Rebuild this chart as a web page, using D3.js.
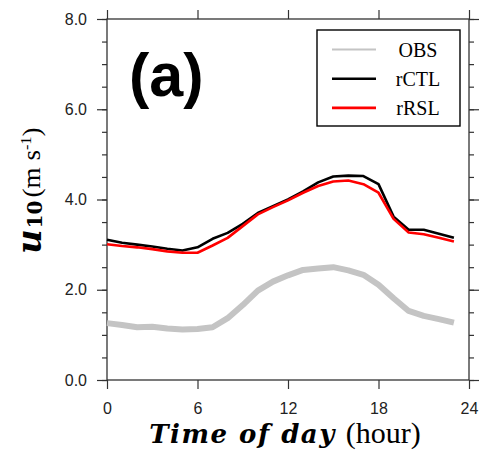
<!DOCTYPE html>
<html>
<head>
<meta charset="utf-8">
<script src="https://cdn.jsdelivr.net/npm/d3@7"></script>
<style>
  body { margin: 0; background: #fff; }
  svg { display: block; }
</style>
</head>
<body>
<svg id="chart" width="480" height="454"></svg>
<script>
// hourly values
const hours = d3.range(0, 24);
const obs = [1.26, 1.22, 1.17, 1.18, 1.14, 1.12, 1.13, 1.17, 1.37, 1.66, 1.98, 2.18,
  2.32, 2.44, 2.47, 2.50, 2.43, 2.33, 2.11, 1.81, 1.53, 1.42, 1.35, 1.27];
const rCTL = [3.11, 3.04, 3.00, 2.96, 2.91, 2.87, 2.94, 3.13, 3.26, 3.46, 3.70, 3.85,
  4.00, 4.18, 4.38, 4.51, 4.53, 4.52, 4.34, 3.62, 3.33, 3.33, 3.24, 3.15];
const rRSL = [3.01, 2.97, 2.94, 2.90, 2.85, 2.82, 2.82, 2.98, 3.15, 3.41, 3.67, 3.83,
  3.98, 4.15, 4.30, 4.40, 4.42, 4.34, 4.15, 3.57, 3.27, 3.23, 3.15, 3.07];

const seriesNames = ["OBS", "rCTL", "rRSL"];
const xTicks = [0, 6, 12, 18, 24];
const yTicks = [0, 2, 4, 6, 8];
const yMinorTicks = d3.range(0, 8.01, 0.5);

const series = [
  {name: seriesNames[0], values: obs, color: "#c4c4c4", width: 6, legendWidth: 2},
  {name: seriesNames[1], values: rCTL, color: "#000000", width: 2.6, legendWidth: 2.6},
  {name: seriesNames[2], values: rRSL, color: "#ff0000", width: 2.6, legendWidth: 2.6}
];

const svg = d3.select("#chart");
const plotLeft = 107, plotRight = 469, plotTop = 19, plotBottom = 380;

const x = d3.scaleLinear().domain([0, 24]).range([plotLeft, plotRight]);
const y = d3.scaleLinear().domain([0, 8]).range([plotBottom, plotTop]);

const axisColor = "#333";

// minor ticks first, then major ticks on each side
function styleAxis(g) {
  g.select(".domain").remove();
  g.selectAll(".tick line").attr("stroke", axisColor).attr("stroke-width", 1.2);
  g.selectAll(".tick text")
    .attr("fill", "#222")
    .style("font-family", "Liberation Sans, Arial, sans-serif")
    .style("font-size", "16px");
}

svg.append("g").attr("transform", `translate(${plotLeft},0)`)
  .call(d3.axisLeft(y).tickValues(yMinorTicks).tickSize(5).tickFormat(""))
  .call(styleAxis);
svg.append("g").attr("transform", `translate(${plotRight},0)`)
  .call(d3.axisRight(y).tickValues(yMinorTicks).tickSize(5).tickFormat(""))
  .call(styleAxis);

svg.append("g").attr("transform", `translate(${plotLeft},0)`)
  .call(d3.axisLeft(y).tickValues(yTicks).tickSize(10).tickPadding(10).tickFormat(d3.format(".1f")))
  .call(styleAxis);
svg.append("g").attr("transform", `translate(${plotRight},0)`)
  .call(d3.axisRight(y).tickValues(yTicks).tickSize(10).tickFormat(""))
  .call(styleAxis);

svg.append("g").attr("transform", `translate(0,${plotBottom})`)
  .call(d3.axisBottom(x).tickValues(xTicks).tickSize(9).tickPadding(14).tickFormat(d3.format("d")))
  .call(styleAxis);
svg.append("g").attr("transform", `translate(0,${plotTop})`)
  .call(d3.axisTop(x).tickValues(xTicks).tickSize(9).tickFormat(""))
  .call(styleAxis);

// frame
svg.append("rect")
  .attr("x", plotLeft).attr("y", plotTop)
  .attr("width", plotRight - plotLeft).attr("height", plotBottom - plotTop)
  .attr("fill", "none").attr("stroke", axisColor).attr("stroke-width", 1.3);

// lines
const line = d3.line()
  .x((d, i) => x(hours[i]))
  .y(d => y(d));

svg.append("g").selectAll("path")
  .data(series)
  .join("path")
  .attr("d", d => line(d.values))
  .attr("fill", "none")
  .attr("stroke", d => d.color)
  .attr("stroke-width", d => d.width)
  .attr("stroke-linejoin", "round");

// panel label
svg.append("text")
  .attr("x", 129).attr("y", 96)
  .style("font-family", "Liberation Sans, Arial, sans-serif")
  .style("font-weight", "bold")
  .style("font-size", "61px")
  .text("(a)");

// legend
const legend = svg.append("g");
legend.append("rect")
  .attr("x", 317).attr("y", 30)
  .attr("width", 143).attr("height", 96)
  .attr("fill", "#fff").attr("stroke", "#000").attr("stroke-width", 1.4);

const row = legend.selectAll("g.row")
  .data(series)
  .join("g")
  .attr("class", "row")
  .attr("transform", (d, i) => `translate(0,${49.5 + i * 29.2})`);

row.append("line")
  .attr("x1", 332).attr("x2", 376)
  .attr("stroke", d => d.color)
  .attr("stroke-width", d => d.legendWidth);

row.append("text")
  .attr("x", 418).attr("y", 7)
  .attr("text-anchor", "middle")
  .style("font-family", "Liberation Serif, Times New Roman, serif")
  .style("font-size", "20px")
  .text(d => d.name);

// axis titles
const xTitle = svg.append("text")
  .attr("x", 285).attr("y", 443)
  .attr("text-anchor", "middle");
xTitle.append("tspan")
  .style("font-family", "DejaVu Serif, serif")
  .style("font-weight", "bold").style("font-style", "italic")
  .style("font-size", "26px")
  .style("letter-spacing", "1.5px")
  .text("Time of day");
xTitle.append("tspan")
  .attr("dx", 10)
  .style("font-family", "Liberation Serif, serif")
  .style("font-size", "30px")
  .text("(hour)");

// y title in three pieces, reading bottom to top
svg.append("text")
  .attr("transform", "translate(40.5,254) rotate(-90)")
  .style("font-family", "DejaVu Serif, serif")
  .style("font-weight", "bold").style("font-style", "italic")
  .style("font-size", "34px")
  .text("u");

svg.append("text")
  .attr("transform", "translate(41.5,228.5) rotate(-90)")
  .attr("textLength", 28).attr("lengthAdjust", "spacingAndGlyphs")
  .style("font-family", "DejaVu Serif, serif")
  .style("font-weight", "bold")
  .style("font-size", "21px")
  .text("10");

const unit = svg.append("text")
  .attr("transform", "translate(40,197.5) rotate(-90)")
  .attr("textLength", 70).attr("lengthAdjust", "spacingAndGlyphs")
  .style("font-family", "Liberation Serif, serif")
  .style("font-size", "25px");
unit.append("tspan").text("(m s");
unit.append("tspan")
  .attr("dy", -9)
  .style("font-size", "15px")
  .text("-1");
unit.append("tspan")
  .attr("dy", 9)
  .text(")");
</script>
</body>
</html>
